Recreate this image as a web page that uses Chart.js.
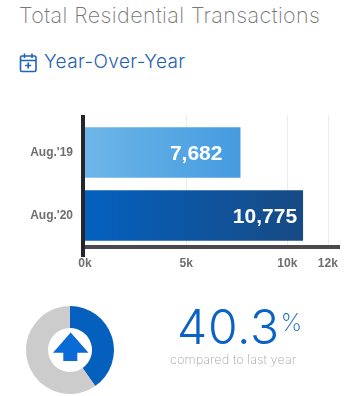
<!DOCTYPE html>
<html>
<head>
<meta charset="utf-8">
<script src="https://cdn.jsdelivr.net/npm/chart.js@4"></script>
<style>
html, body { margin: 0; padding: 0; background: #fff; }
body { position: relative; width: 357px; height: 396px; overflow: hidden; font-family: Inter, sans-serif; }
.txt { position: absolute; white-space: nowrap; line-height: 1; }
canvas { position: absolute; }
#title { left: 19px; top: 5px; font-size: 21.5px; font-weight: 200; color: #777; letter-spacing: 0.4px; }
#subtitle { left: 44px; top: 52px; font-size: 19px; font-weight: 300; color: #1f5fb4; letter-spacing: 0.4px; }
#pct { left: 177px; top: 303px; font-size: 48px; font-weight: 300; color: #0a62c4; letter-spacing: 0.7px; }
#pct span { font-size: 24px; font-weight: 200; vertical-align: 13px; margin-left: 1px; }
#note { left: 170px; top: 354px; font-size: 12.8px; font-weight: 200; color: #a8a8a8; }
svg { position: absolute; }
</style>
</head>
<body>
<div class="txt" id="title">Total Residential Transactions</div>
<svg style="left:19px;top:52px" width="20" height="21" viewBox="0 0 20 21" fill="none" stroke="#1f63bd" stroke-width="1.6">
  <rect x="1.5" y="4" width="15.5" height="15.5" rx="1.5"/>
  <path d="M1.5 8.5H17M5.5 1.5V6M13 1.5V6M9.2 10.5V16.5M6.2 13.5H12.2"/>
</svg>
<div class="txt" id="subtitle">Year-Over-Year</div>
<canvas id="chart-bar" width="357" height="180" style="left:0;top:100px"></canvas>
<canvas id="chart-donut" width="88" height="88" style="left:26px;top:306px"></canvas>
<svg style="left:0;top:300px" width="140" height="96">
  <path d="M70.7 32.5L88.5 52.7H77.3V61H63.3V52.7H53Z" fill="#0a6ad6"/>
</svg>
<div class="txt" id="pct"></div>
<div class="txt" id="note">compared to last year</div>

<script>
const categories = ["Aug.'19", "Aug.'20"];
const transactions = [7682, 10775];
const xTickValues = [0, 5000, 10000, 12000];
const changePercent = [40.3, 59.7];

document.getElementById("pct").innerHTML = changePercent[0] + "<span>%</span>";

const barGradients = [
    ["#6db6e9", "#459bdf"],
    ["#0460bf", "#174a84"],
];

function barFill(context) {
    const chart = context.chart;
    const colors = barGradients[context.dataIndex];
    const x = chart.scales.x;
    if (!x || !Number.isFinite(x.getPixelForValue(0))) return colors[0];
    const gradient = chart.ctx.createLinearGradient(x.getPixelForValue(0), 0, x.getPixelForValue(transactions[context.dataIndex]), 0);
    gradient.addColorStop(0, colors[0]);
    gradient.addColorStop(1, colors[1]);
    return gradient;
}

// grid lines and the two heavy axis lines stick out past the chart area
const axisLines = {
    id: "axisLines",
    beforeDatasetsDraw(chart) {
        const { ctx, chartArea, scales } = chart;
        ctx.save();
        ctx.strokeStyle = "#ececec";
        ctx.lineWidth = 1;
        xTickValues.slice(1).forEach((v) => {
            const px = Math.round(scales.x.getPixelForValue(v)) + 0.5;
            ctx.beginPath();
            ctx.moveTo(px, chartArea.top - 6);
            ctx.lineTo(px, chartArea.bottom - 2);
            ctx.stroke();
        });
        ctx.restore();
    },
    afterDatasetsDraw(chart) {
        const { ctx, chartArea } = chart;
        ctx.save();
        ctx.fillStyle = "#4a4a4c";
        ctx.fillRect(chartArea.left, chartArea.bottom - 2, chartArea.right - chartArea.left, 4);
        ctx.fillStyle = "#25252b";
        ctx.fillRect(chartArea.left - 4, chartArea.top - 6, 4, 142);
        ctx.restore();
    },
};

const barValueLabels = {
    id: "barValueLabels",
    afterDatasetsDraw(chart) {
        const { ctx } = chart;
        const rightGap = [18, 6];
        const bars = chart.getDatasetMeta(0).data;
        ctx.save();
        ctx.fillStyle = "#fff";
        ctx.font = "bold 21px 'Liberation Sans'";
        ctx.textAlign = "right";
        ctx.textBaseline = "middle";
        bars.forEach((bar, i) => {
            ctx.fillText(transactions[i].toLocaleString("en-US"), bar.x - rightGap[i], bar.y + 2);
        });
        ctx.restore();
    },
};

new Chart(document.getElementById("chart-bar"), {
    type: "bar",
    data: {
        labels: categories,
        datasets: [
            {
                data: transactions,
                backgroundColor: barFill,
                borderWidth: 0,
                categoryPercentage: 1,
                barPercentage: 0.8,
            },
        ],
    },
    options: {
        indexAxis: "y",
        responsive: false,
        animation: false,
        layout: { padding: { top: 21, right: 17, left: 0, bottom: 0 } },
        plugins: { legend: { display: false }, tooltip: { enabled: false } },
        scales: {
            x: {
                min: 0,
                max: 12600,
                afterBuildTicks(scale) {
                    scale.ticks = xTickValues.map((value) => ({ value }));
                },
                afterFit(scale) {
                    scale.height = 33;
                },
                grid: { display: false },
                border: { display: false },
                ticks: {
                    autoSkip: false,
                    maxRotation: 0,
                    padding: 1,
                    color: "#6e6e6e",
                    font: { family: "'Liberation Sans'", size: 12, weight: "bold" },
                    callback: (value) => value / 1000 + "k",
                },
            },
            y: {
                afterFit(scale) {
                    scale.width = 85;
                },
                grid: { display: false },
                border: { display: false },
                ticks: {
                    padding: 4,
                    color: "#6e6e6e",
                    font: { family: "'Liberation Sans'", size: 12, weight: "bold" },
                },
            },
        },
    },
    plugins: [axisLines, barValueLabels],
});

new Chart(document.getElementById("chart-donut"), {
    type: "doughnut",
    data: {
        datasets: [
            {
                data: changePercent,
                backgroundColor: ["#0560bd", "#cccccc"],
                borderWidth: 0,
            },
        ],
    },
    options: {
        responsive: false,
        animation: false,
        cutout: "50%",
        plugins: { legend: { display: false }, tooltip: { enabled: false } },
    },
});
</script>
</body>
</html>
